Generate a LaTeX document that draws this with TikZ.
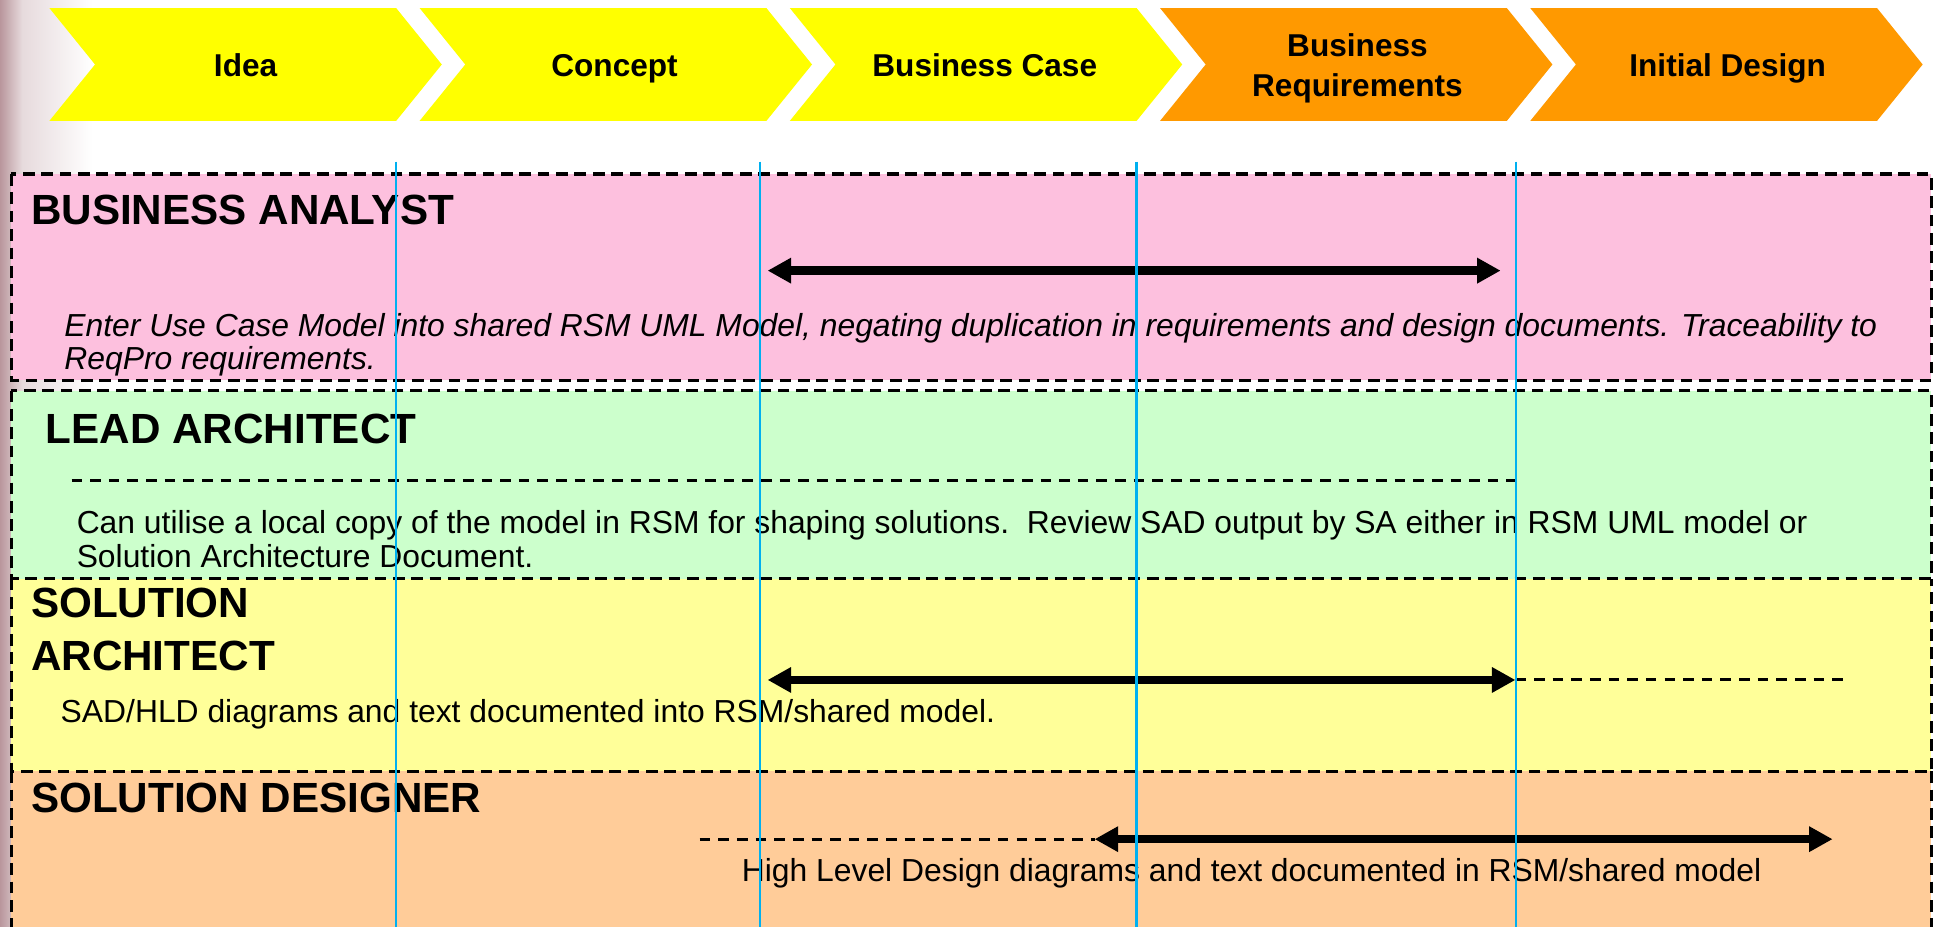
\documentclass[tikz,border=0pt]{standalone}
\usepackage{fontspec}
\setmainfont{Liberation Sans}
\usetikzlibrary{arrows.meta}
\definecolor{chevY}{RGB}{255,255,0}
\definecolor{chevO}{RGB}{255,153,0}
\definecolor{laneBA}{RGB}{253,192,222}
\definecolor{laneLA}{RGB}{204,255,204}
\definecolor{laneSA}{RGB}{255,255,153}
\definecolor{laneSD}{RGB}{255,204,153}
\definecolor{guide}{RGB}{0,176,240}
\definecolor{edgeshade}{RGB}{185,150,156}
\begin{document}
\begin{tikzpicture}[x=1pt,y=-1pt,
  chevlabel/.style={font=\fontsize{25.6}{30}\selectfont\bfseries, inner sep=0pt, anchor=base},
  rolehead/.style={font=\fontsize{34.2}{40}\selectfont\bfseries, inner sep=0pt, anchor=base west},
  bodytext/.style={font=\fontsize{25.8}{28}\selectfont, inner sep=0pt, anchor=base west},
  lanefill/.style={inner sep=0pt, outer sep=0pt, anchor=north west, minimum width=1556pt},
  laneedge/.style={draw=black, line width=2.5pt, dash pattern=on 9.5pt off 5.4pt},
  guideline/.style={draw=guide, line width=2pt},
  spanarrow/.style={line width=6.8pt, {Triangle[length=19pt,width=19.5pt]}-{Triangle[length=19pt,width=19.5pt]}},
  extline/.style={line width=2.4pt, dash pattern=on 8.6pt off 6.5pt},
]
\useasboundingbox (0,0) rectangle (1568,751);
\clip (0,0) rectangle (1568,751);
% left edge shadow
\shade[left color=edgeshade, right color=edgeshade!35!white] (0,0) rectangle (18,751);
\shade[left color=edgeshade!35!white, right color=white] (18,0) rectangle (75,751);

% chevrons
\foreach \L/\c in {40/chevY,340/chevY,640/chevY,940/chevO,1240/chevO}
  \fill[\c] (\L,6.5) -- ({\L+281},6.5) -- ({\L+318},52.25) -- ({\L+281},98) -- (\L,98) -- ({\L+37},52.25) -- cycle;
\node[chevlabel] (cIdea) at (199,61.6) {Idea};
\node[chevlabel] (cConcept) at (498,61.6) {Concept};
\node[chevlabel] (cCase) at (798,61.6) {Business Case};
\node[chevlabel] (cReq1) at (1100,46) {Business};
\node[chevlabel] (cReq2) at (1100,78.5) {Requirements};
\node[chevlabel] (cDesign) at (1400,61.6) {Initial Design};

% lanes
\node[lanefill, fill=laneBA, minimum height=167pt] (laneA) at (9,141) {};
\node[lanefill, fill=laneLA, minimum height=152.5pt] (laneB) at (9,316.5) {};
\node[lanefill, fill=laneSA, minimum height=156pt] (laneC) at (9,469) {};
\node[lanefill, fill=laneSD, minimum height=160pt] (laneD) at (9,625) {};
\draw[laneedge] (laneA.north west) rectangle (laneA.south east);
\draw[laneedge] (laneB.north west) rectangle (laneB.south east);
\draw[laneedge] (laneC.north west) -- (laneC.south west) -- (laneC.south east) -- (laneC.north east);
\draw[laneedge] (laneD.north west) -- (laneD.south west);
\draw[laneedge] (laneD.north east) -- (laneD.south east);

% headings
\node[rolehead] (hBA) at (25,182.3) {BUSINESS ANALYST};
\node[rolehead] (hLA) at (37,359) {LEAD ARCHITECT};
\node[rolehead] (hSA1) at (25,500) {SOLUTION};
\node[rolehead] (hSA2) at (25,543) {ARCHITECT};
\node[rolehead] (hSD) at (25,658.5) {SOLUTION DESIGNER};

% descriptions
\node[bodytext, font=\fontsize{25.8}{28}\selectfont\itshape] (tBA1) at (52,273) {Enter Use Case Model into shared RSM UML Model, negating duplication in requirements and design documents. Traceability to};
\node[bodytext, font=\fontsize{25.8}{28}\selectfont\itshape] (tBA2) at (52,299.5) {ReqPro requirements.};
\node[bodytext] (tLA1) at (62,432) {Can utilise a local copy of the model in RSM for shaping solutions.\ \ Review SAD output by SA either in RSM UML model or};
\node[bodytext] (tLA2) at (62,459.5) {Solution Architecture Document.};
\node[bodytext] (tSA) at (49,585.5) {SAD/HLD diagrams and text documented into RSM/shared model.};
\node[bodytext] (tSD) at (601,714) {High Level Design diagrams and text documented in RSM/shared model};

% span arrows and extensions
\coordinate (aL) at (622,219.3);
\coordinate (aR) at (1216,219.3);
\draw[spanarrow] (aL) -- (aR);

\coordinate (lL) at (58,389);
\coordinate (lR) at (1232,389);
\draw[extline] (lL) -- (lR);

\coordinate (sL) at (622,551);
\coordinate (sR) at (1228,551);
\coordinate (sX) at (1498,551);
\draw[extline] (sR) -- (sX);
\draw[spanarrow] (sL) -- (sR);

\coordinate (dX) at (567,680);
\coordinate (dL) at (887,680);
\coordinate (dR) at (1485,680);
\draw[extline] (dX) -- (dL);
\draw[spanarrow] (dL) -- (dR);

% phase guide lines
\foreach \gx in {321,616,921,1228.5}
  \draw[guideline] (\gx,131) -- (\gx,751);
\end{tikzpicture}
\end{document}
